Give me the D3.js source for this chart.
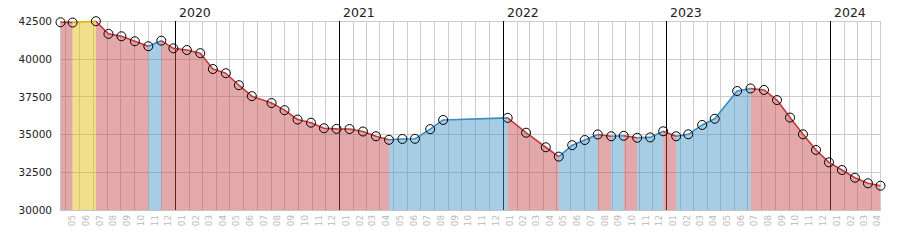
<!DOCTYPE html>
<html>
<head>
<meta charset="utf-8">
<script src="https://cdn.jsdelivr.net/npm/d3@7"></script>
<style>
  html, body { margin: 0; padding: 0; background: #fff; }
  svg { display: block; }
</style>
</head>
<body>
<svg id="chart" width="900" height="250"></svg>
<script>
// ---- data ----
const dates = ["2019-04-19","2019-05-16","2019-07-07","2019-08-04","2019-09-02","2019-10-02","2019-11-01","2019-11-30","2019-12-27",
  "2020-01-26","2020-02-25","2020-03-24","2020-04-22","2020-05-21","2020-06-19","2020-08-02","2020-08-31","2020-09-29","2020-10-29","2020-11-27","2020-12-25",
  "2021-01-23","2021-02-22","2021-03-23","2021-04-21","2021-05-21","2021-06-18","2021-07-22","2021-08-20",
  "2022-01-11","2022-02-21","2022-04-06","2022-05-05","2022-06-04","2022-07-02","2022-07-31","2022-08-30","2022-09-27","2022-10-27","2022-11-25","2022-12-24",
  "2023-01-22","2023-02-18","2023-03-21","2023-04-18","2023-06-07","2023-07-07","2023-08-06","2023-09-04","2023-10-03","2023-11-01","2023-11-30","2023-12-29",
  "2024-01-27","2024-02-25","2024-03-25","2024-04-22"];
const values = [42450,42430,42520,41680,41520,41190,40860,41230,40720,
  40610,40400,39350,39070,38275,37550,37095,36620,36000,35790,35420,35380,
  35370,35205,34890,34655,34710,34720,35360,35970,
  36110,35125,34160,33540,34300,34640,35010,34890,34920,34790,34815,35220,
  34890,35020,35640,36050,37890,38060,37960,37290,36130,35020,33980,33160,
  32650,32140,31770,31610];
// segments (starting at these dates) shown as "unchanged"
const steadyFrom = ["2019-05-16"];
const yTicks = [30000,32500,35000,37500,40000,42500];

// ---- layout ----
const svg = d3.select("#chart");
const L = 60.5, R = 880.5, T = 21.5, B = 210;
const parse = d3.utcParse("%Y-%m-%d");
const pts = dates.map((d,i) => ({date: parse(d), value: values[i], key: d}));

const x = d3.scaleUtc().domain([pts[0].date, pts[pts.length-1].date]).range([L, R]);
const y = d3.scaleLinear().domain([30000, 42500]).range([B, T]);

const colors = {
  down: {line: "#c83a3a", fill: "rgb(196,70,72)"},
  up:   {line: "#3a8cc4", fill: "rgb(66,149,196)"},
  flat: {line: "#e2b200", fill: "rgb(228,187,8)"}
};
const fillOpacity = 0.47;
const snap = v => Math.round(v - 0.5) + 0.5;

// grid
const months = d3.utcMonth.range(d3.utcMonth.ceil(x.domain()[0]), x.domain()[1]);
const grid = svg.append("g");
months.forEach(m => {
  if (m.getUTCMonth() === 0) return;
  const xx = snap(x(m));
  grid.append("line").attr("x1", xx).attr("x2", xx).attr("y1", T - 0.5).attr("y2", B)
    .attr("stroke", "#cccccc").attr("stroke-width", 1);
});
yTicks.forEach(t => {
  if (t === 30000) return;
  const yy = snap(y(t));
  grid.append("line").attr("x1", L).attr("x2", R).attr("y1", yy).attr("y2", yy)
    .attr("stroke", "#cccccc").attr("stroke-width", 1);
});
// year lines
const years = d3.utcYear.range(d3.utcYear.ceil(x.domain()[0]), x.domain()[1]);
years.forEach(yr => {
  const xx = snap(x(yr));
  grid.append("line").attr("x1", xx).attr("x2", xx).attr("y1", T - 0.5).attr("y2", B)
    .attr("stroke", "#000").attr("stroke-width", 1);
  svg.append("text").attr("x", xx + 3.5).attr("y", 17)
    .attr("font-family", "DejaVu Sans").attr("font-size", 12.5).attr("fill", "#222")
    .text(d3.utcFormat("%Y")(yr));
});

// segments trend
const trend = [];
for (let i = 0; i < pts.length - 1; i++) {
  if (steadyFrom.includes(pts[i].key)) trend.push("flat");
  else trend.push(pts[i+1].value > pts[i].value ? "up" : "down");
}
const runs = [];
trend.forEach((t, i) => {
  const last = runs[runs.length - 1];
  if (last && last.t === t) last.end = i + 1;
  else runs.push({t, start: i, end: i + 1});
});

const area = d3.area().x(d => x(d.date)).y0(B).y1(d => y(d.value));
const line = d3.line().x(d => x(d.date)).y(d => y(d.value));

const fills = svg.append("g");
runs.forEach(r => {
  fills.append("path").attr("d", area(pts.slice(r.start, r.end + 1)))
    .attr("fill", colors[r.t].fill).attr("fill-opacity", fillOpacity);
});
// frame
svg.append("line").attr("x1", L).attr("x2", L).attr("y1", T - 0.5).attr("y2", B + 1)
  .attr("stroke", "#c4c4c4");
svg.append("line").attr("x1", R).attr("x2", R).attr("y1", T - 0.5).attr("y2", B + 1)
  .attr("stroke", "#cccccc");
svg.append("line").attr("x1", L).attr("x2", R).attr("y1", B + 0.5).attr("y2", B + 0.5)
  .attr("stroke", "#c4c4c4");

const lines = svg.append("g");
runs.forEach(r => {
  lines.append("path").attr("d", line(pts.slice(r.start, r.end + 1)))
    .attr("fill", "none").attr("stroke", colors[r.t].line).attr("stroke-width", 1.6)
    .attr("stroke-linejoin", "round");
});

// markers
svg.append("g").selectAll("circle").data(pts).join("circle")
  .attr("cx", d => x(d.date)).attr("cy", d => y(d.value)).attr("r", 4.5)
  .attr("fill", "none").attr("stroke", "#000").attr("stroke-width", 1);

// y labels
svg.append("g").selectAll("text").data(yTicks).join("text")
  .attr("x", 52).attr("y", d => y(d)).attr("dy", "0.35em")
  .attr("text-anchor", "end").attr("font-family", "DejaVu Sans").attr("font-size", 10.5)
  .attr("fill", "#222").text(d => d);

// month labels (centered mid-month, rotated)
const mlab = svg.append("g");
d3.utcMonth.range(d3.utcMonth.floor(x.domain()[0]), x.domain()[1]).forEach(m => {
  const mid = d3.utcDay.offset(m, 14);
  if (mid < x.domain()[0] || mid > x.domain()[1]) return;
  const xx = x(mid);
  mlab.append("text").attr("transform", `translate(${xx},215) rotate(-90)`)
    .attr("text-anchor", "end").attr("dy", "0.35em")
    .attr("font-family", "DejaVu Sans").attr("font-size", 8.8).attr("fill", "#bbbbbb")
    .text(d3.utcFormat("%m")(m));
});
</script>
</body>
</html>
